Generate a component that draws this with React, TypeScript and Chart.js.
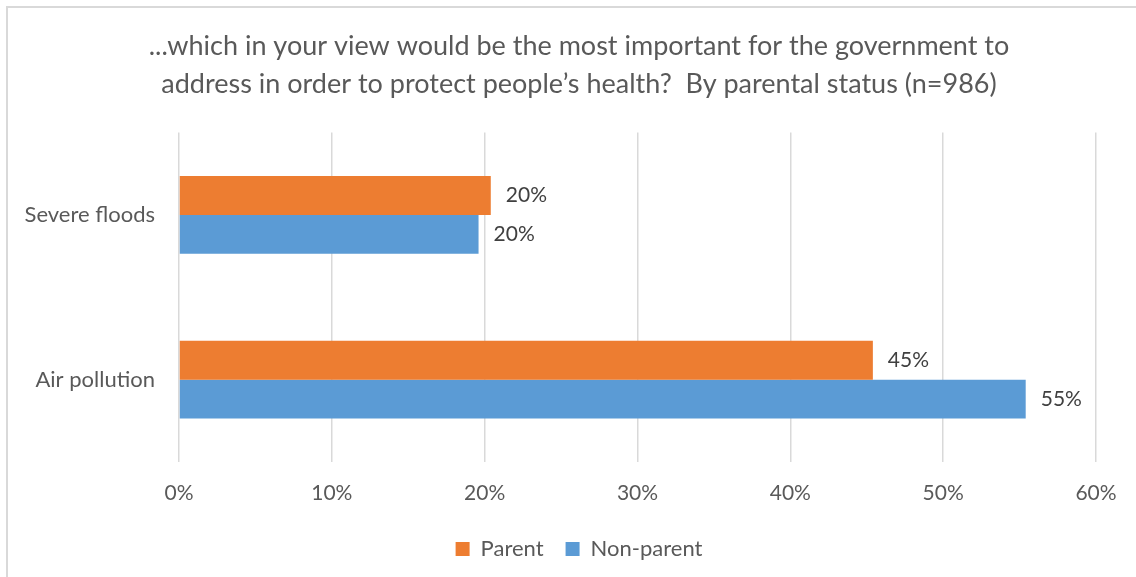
import React, { useEffect, useRef } from "react";
import { Chart, registerables } from "chart.js";

Chart.register(...registerables);

const titleLines = [
  "...which in your view would be the most important for the government to",
  "address in order to protect people\u2019s health?  By parental status (n=986)",
];
const categories = ["Severe floods", "Air pollution"];
const parentValues = [20.4, 45.4];
const nonParentValues = [19.6, 55.4];
const xTicks = [0, 10, 20, 30, 40, 50, 60];

const FONT = "Lato, 'Open Sans', sans-serif";

const dataLabelPlugin = {
  id: "dataLabels",
  afterDatasetsDraw(chart: any) {
    const ctx = chart.ctx;
    ctx.save();
    ctx.font = `21px ${FONT}`;
    ctx.fillStyle = "#404040";
    ctx.textAlign = "left";
    ctx.textBaseline = "middle";
    chart.data.datasets.forEach((ds: any, i: number) => {
      const meta = chart.getDatasetMeta(i);
      meta.data.forEach((el: any, j: number) => {
        const v = ds.data[j];
        ctx.fillText(Math.round(v) + "%", el.x + 15, el.y);
      });
    });
    ctx.restore();
  },
};

export default function App() {
  const ref = useRef<HTMLCanvasElement>(null);
  useEffect(() => {
    if (!ref.current) return;
    const chart = new Chart(ref.current, {
      type: "bar",
      data: {
        labels: categories,
        datasets: [
          { label: "Parent", data: parentValues, backgroundColor: "#ED7D31", borderWidth: 0 },
          { label: "Non-parent", data: nonParentValues, backgroundColor: "#5B9BD5", borderWidth: 0 },
        ],
      },
      options: {
        indexAxis: "y",
        animation: false,
        responsive: false,
        maintainAspectRatio: false,
        layout: { padding: { left: 24, right: 2, top: 0, bottom: 7 } },
        datasets: { bar: { categoryPercentage: 0.473, barPercentage: 1 } },
        scales: {
          x: {
            min: 0,
            max: 60,
            afterBuildTicks: (s: any) => {
              s.ticks = xTicks.map((v) => ({ value: v }));
            },
            afterFit: (s: any) => {
              s.height = 54;
            },
            ticks: {
              callback: (v: any) => v + "%",
              color: "#595959",
              font: { family: FONT, size: 21 },
              padding: 19,
            },
            grid: { color: "#d9d9d9", lineWidth: 1.5, drawTicks: false },
            border: { display: false },
          },
          y: {
            afterFit: (s: any) => {
              s.width = 155;
            },
            ticks: {
              color: "#595959",
              font: { family: FONT, size: 22 },
              padding: 24,
            },
            grid: { display: false, drawTicks: false },
            border: { display: false },
          },
          yRight: {
            type: "category",
            position: "right",
            labels: [],
            afterFit: (s: any) => {
              s.width = 38;
            },
            ticks: { display: false },
            grid: { display: false, drawTicks: false },
            border: { display: false },
          },
        },
        plugins: {
          title: {
            display: true,
            text: titleLines,
            color: "#595959",
            font: { family: FONT, size: 27, weight: "normal", lineHeight: 1.38 },
            padding: { top: 28, bottom: 30 },
          },
          legend: {
            position: "bottom",
            labels: {
              color: "#595959",
              font: { family: FONT, size: 22 },
              boxWidth: 14,
              boxHeight: 14,
              padding: 22,
            },
          },
          tooltip: { enabled: false },
        },
      },
      plugins: [dataLabelPlugin],
    } as any);
    return () => chart.destroy();
  }, []);
  return (
    <div style={{ position: "fixed", left: 0, top: 0, width: 1136, height: 577, overflow: "hidden", background: "#fff" }}>
      <div
        style={{
          position: "absolute",
          left: 6,
          top: 6,
          width: 1140,
          height: 590,
          border: "2px solid #d9d9d9",
        }}
      />
      <canvas ref={ref} width={1136} height={577} style={{ position: "absolute", left: 0, top: 0 }} />
    </div>
  );
}
